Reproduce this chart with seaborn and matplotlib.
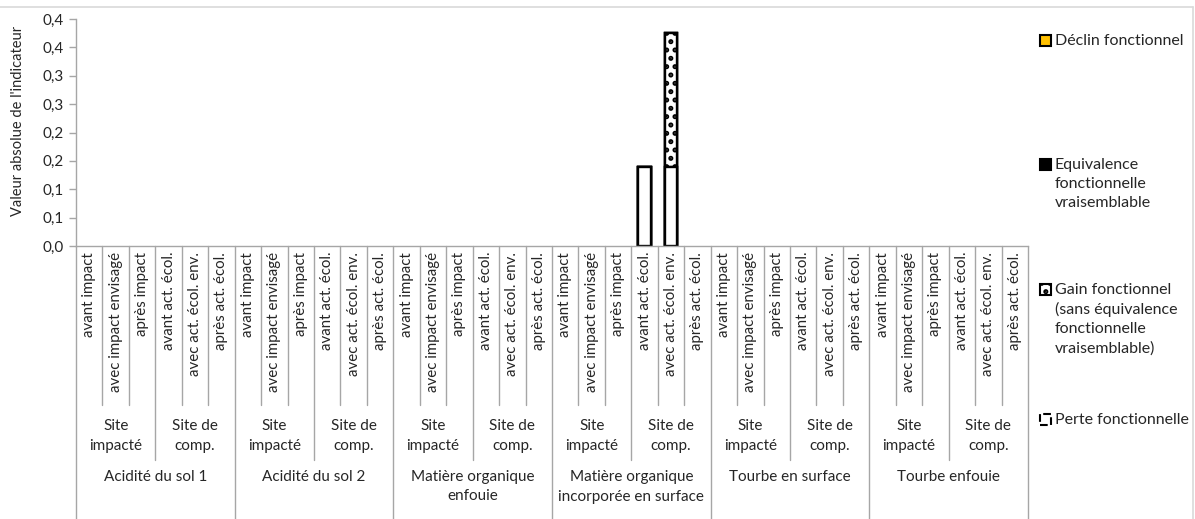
import numpy as np
import pandas as pd
import seaborn as sns
import matplotlib
matplotlib.use("Agg")
import matplotlib.pyplot as plt
from matplotlib.patches import Rectangle
from matplotlib.ticker import FuncFormatter, MultipleLocator
from matplotlib import transforms

# --- data -------------------------------------------------------------
indicators = ["Acidité du sol 1", "Acidité du sol 2", "Matière organique\nenfouie",
              "Matière organique\nincorporée en surface", "Tourbe en surface", "Tourbe enfouie"]
sites = ["Site\nimpacté", "Site de\ncomp."]
states_impact = ["avant impact", "avec impact envisagé", "après impact"]
states_comp = ["avant act. écol.", "avec act. écol. env.", "après act. écol."]

# one value per bar (6 indicators x 2 sites x 3 states)
base_value = [0, 0, 0, 0, 0, 0,
              0, 0, 0, 0, 0, 0,
              0, 0, 0, 0, 0, 0,
              0, 0, 0, 0.14, 0.14, 0,
              0, 0, 0, 0, 0, 0,
              0, 0, 0, 0, 0, 0]
perte = [0] * 36
gain = [0, 0, 0, 0, 0, 0,
        0, 0, 0, 0, 0, 0,
        0, 0, 0, 0, 0, 0,
        0, 0, 0, 0, 0.235, 0,
        0, 0, 0, 0, 0, 0,
        0, 0, 0, 0, 0, 0]
equivalence = [0] * 36
declin = [0] * 36

legend_labels = ["Déclin fonctionnel",
                 "Equivalence\nfonctionnelle\nvraisemblable",
                 "Gain fonctionnel\n(sans équivalence\nfonctionnelle\nvraisemblable)",
                 "Perte fonctionnelle"]

# --- build table ------------------------------------------------------
state_labels = []
for ind in indicators:
    state_labels += states_impact + states_comp
n = len(state_labels)
df = pd.DataFrame({
    "pos": np.arange(n),
    "base": base_value,
    "perte": perte,
    "gain": gain,
    "equivalence": equivalence,
    "declin": declin,
})
layers = ["base", "perte", "gain", "equivalence", "declin"]
cum = df[layers].cumsum(axis=1)

styles = {
    "base": dict(color="white", edgecolor="black", hatch=None),
    "perte": dict(color="white", edgecolor="black", hatch=None),
    "gain": dict(color="white", edgecolor="black", hatch=".."),
    "equivalence": dict(color="black", edgecolor="black", hatch=None),
    "declin": dict(color="#FFC000", edgecolor="black", hatch=None),
}

# --- figure -----------------------------------------------------------
sns.set_theme(style="white")
plt.rcParams["font.family"] = ["Lato", "DejaVu Sans"]
plt.rcParams["hatch.linewidth"] = 2.4

W, H = 1195, 519
fig = plt.figure(figsize=(W / 100, H / 100), dpi=100)
ax_left, ax_right, ax_top, ax_bot = 76, 1028, 19, 246
ax = fig.add_axes([ax_left / W, 1 - ax_bot / H, (ax_right - ax_left) / W, (ax_bot - ax_top) / H])

# stacked bars: draw cumulative heights from top layer down
for layer in reversed(layers):
    st = styles[layer]
    before = len(ax.patches)
    sns.barplot(x=df["pos"], y=cum[layer], ax=ax, order=list(range(n)), width=0.47,
                color=st["color"], edgecolor=st["edgecolor"], linewidth=1.7,
                errorbar=None, saturation=1)
    for p in ax.patches[before:]:
        if st["hatch"]:
            p.set_hatch(st["hatch"])
        if p.get_height() <= 0:
            p.set_visible(False)
        p.set_facecolor(st["color"])

ax.set_xlim(-0.5, n - 0.5)
ax.set_ylim(0, 0.4)
ax.yaxis.set_major_locator(MultipleLocator(0.05))


def fr_fmt(v, _):
    r = np.floor(v * 10 + 0.5 + 1e-9) / 10
    return f"{r:.1f}".replace(".", ",")


ax.yaxis.set_major_formatter(FuncFormatter(fr_fmt))
ax.tick_params(axis="y", length=5, width=1, color="#a6a6a6", labelsize=11, pad=4, left=True)
ax.set_xticks([])
ax.set_xlabel("")
ax.set_ylabel("")
for s in ["top", "right"]:
    ax.spines[s].set_visible(False)
for s in ["left", "bottom"]:
    ax.spines[s].set_color("#a6a6a6")
    ax.spines[s].set_linewidth(1)

fig.text(18 / W, 1 - 121 / H, "Valeur absolue de l'indicateur", rotation=90,
         ha="center", va="center", fontsize=10.5)

# --- multi-level category axis ---------------------------------------
tr = transforms.blended_transform_factory(ax.transData, fig.transFigure)


def fy(px):
    return 1 - px / H


line_kw = dict(color="#a6a6a6", lw=1, transform=tr, clip_on=False)
for k in range(n + 1):
    xb = k - 0.5
    if k % 6 == 0:
        y_end = 519
    elif k % 3 == 0:
        y_end = 460
    else:
        y_end = 405
    ax.plot([xb, xb], [fy(ax_bot), fy(y_end)], **line_kw)

for i, lab in enumerate(state_labels):
    ax.text(i, fy(252), lab, rotation=90, ha="center", va="top", fontsize=10.8, transform=tr)

for g in range(len(indicators) * 2):
    ax.text(g * 3 + 1, fy(436), sites[g % 2], ha="center", va="center", fontsize=11,
            multialignment="center", linespacing=1.5, transform=tr)

for j, ind in enumerate(indicators):
    ax.text(j * 6 + 2.5, fy(470), ind, ha="center", va="top", fontsize=11,
            multialignment="center", linespacing=1.5, transform=tr)

# --- legend -----------------------------------------------------------
leg_styles = [
    dict(facecolor="#FFC000", edgecolor="black", hatch=None, ls="-"),
    dict(facecolor="black", edgecolor="black", hatch=None, ls="-"),
    dict(facecolor="white", edgecolor="black", hatch="..", ls="-"),
    dict(facecolor="white", edgecolor="black", hatch=None, ls="--"),
]
leg_y = [41, 165, 290, 420]
for lab, st, ypx in zip(legend_labels, leg_styles, leg_y):
    r = Rectangle((1040 / W, fy(ypx + 5)), 11 / W, 11 / H, transform=fig.transFigure,
                  facecolor=st["facecolor"], edgecolor=st["edgecolor"], hatch=st["hatch"],
                  linestyle=st["ls"], linewidth=1.5)
    fig.patches.append(r)
    fig.text(1055 / W, fy(ypx - 7), lab, ha="left", va="top", fontsize=11.5,
             linespacing=1.45)

# chart frame (top and right edges)
fig.add_artist(plt.Line2D([0, 1193 / W], [fy(7), fy(7)], color="#d9d9d9", lw=1.2,
                          transform=fig.transFigure))
fig.add_artist(plt.Line2D([1193 / W, 1193 / W], [fy(7), 0], color="#d9d9d9", lw=1.2,
                          transform=fig.transFigure))

fig.savefig("out.png", dpi=100)
